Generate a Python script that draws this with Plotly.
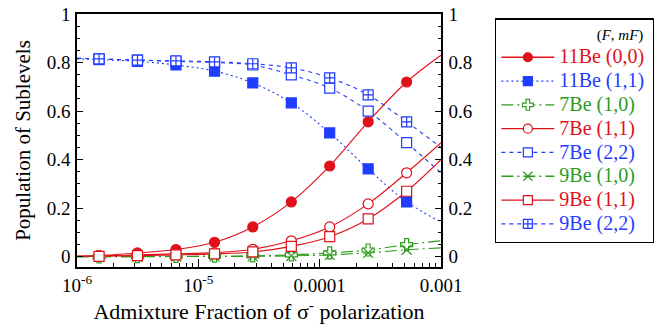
import plotly.graph_objects as go

# ---- data ----
x_pts = [1.52e-6, 3.15e-6, 6.54e-6, 1.36e-5, 2.81e-5, 5.84e-5, 1.21e-4, 2.51e-4, 5.21e-4]
x_lo, x_hi = 1e-6, 1e-3

be11_00 = [0.005, 0.016, 0.030, 0.060, 0.123, 0.226, 0.374, 0.556, 0.720]
be11_11 = [0.812, 0.805, 0.790, 0.765, 0.716, 0.634, 0.510, 0.362, 0.226]
be7_10 = [0.000, 0.001, 0.002, 0.003, 0.004, 0.008, 0.016, 0.028, 0.050]
be7_11 = [0.004, 0.008, 0.012, 0.017, 0.031, 0.066, 0.123, 0.218, 0.346]
be7_22 = [0.815, 0.810, 0.805, 0.800, 0.790, 0.749, 0.695, 0.600, 0.470]
be9_10 = [0.000, 0.000, 0.001, 0.001, 0.002, 0.004, 0.008, 0.016, 0.029]
be9_11 = [0.002, 0.005, 0.008, 0.012, 0.020, 0.043, 0.083, 0.156, 0.270]
be9_22 = [0.815, 0.810, 0.807, 0.803, 0.795, 0.778, 0.737, 0.667, 0.556]

# fitted-curve values at the two ends of the axis
ends_11_00 = (0.003, 0.83)
ends_11_11 = (0.815, 0.144)
ends_7_10 = (0.0, 0.066)
ends_7_11 = (0.002, 0.47)
ends_7_22 = (0.818, 0.345)
ends_9_10 = (0.0, 0.037)
ends_9_11 = (0.001, 0.40)
ends_9_22 = (0.818, 0.45)

names = ["11Be (0,0)", "11Be (1,1)", "7Be (1,0)", "7Be (1,1)",
         "7Be (2,2)", "9Be (1,0)", "9Be (1,1)", "9Be (2,2)"]

x_major = [1e-6, 1e-5, 1e-4, 1e-3]
x_major_text = ["10<sup>-6</sup>", "10<sup>-5</sup>", "0.0001", "0.001"]
x_minor = [d * m for m in (1e-6, 1e-5, 1e-4) for d in range(2, 10)]

RED = "#e0101a"
BLUE = "#1f3cff"
GREEN = "#2e9a1e"
FONT = "Liberation Serif"

series = [
    (names[0], be11_00, ends_11_00, RED, "solid", "circle", RED),
    (names[1], be11_11, ends_11_11, BLUE, "2px,3px", "square", BLUE),
    (names[2], be7_10, ends_7_10, GREEN, "12px,4px,2px,4px", "cross", "white"),
    (names[3], be7_11, ends_7_11, RED, "solid", "circle", "white"),
    (names[4], be7_22, ends_7_22, BLUE, "4px,4px", "square", "white"),
    (names[5], be9_10, ends_9_10, GREEN, "12px,4px,2px,4px", "x-thin", GREEN),
    (names[6], be9_11, ends_9_11, RED, "solid", "square", "white"),
    (names[7], be9_22, ends_9_22, BLUE, "4px,4px", "square-cross", "white"),
]

fig = go.Figure()

# fitted curves
for name, ys, ends, col, dash, sym, fill in series:
    fig.add_trace(go.Scatter(
        x=[x_lo] + x_pts + [x_hi], y=[ends[0]] + ys + [ends[1]],
        mode="lines", line=dict(color=col, width=1.1, dash=dash, shape="spline", smoothing=1.0),
        showlegend=False, hoverinfo="skip"))

# markers
for name, ys, ends, col, dash, sym, fill in series:
    fig.add_trace(go.Scatter(
        x=x_pts, y=ys, mode="markers",
        marker=dict(symbol=sym, size=10, color=fill if sym != "x-thin" else col,
                    line=dict(color=col, width=1.2)),
        showlegend=False))

# legend entries
for name, ys, ends, col, dash, sym, fill in series:
    fig.add_trace(go.Scatter(
        x=[None], y=[None], mode="lines+markers",
        name=f'<span style="color:{col};font-size:20px">{name}</span>\u00a0',
        line=dict(color=col, width=1.3, dash=dash),
        marker=dict(symbol=sym, size=9, color=fill if sym != "x-thin" else col,
                    line=dict(color=col, width=1.2))))

# invisible trace for right axis
fig.add_trace(go.Scatter(x=[None], y=[None], yaxis="y2", showlegend=False))

axis_common = dict(showgrid=False, zeroline=False, showline=True, linecolor="black",
                   linewidth=1.5, ticks="inside", tickcolor="black",
                   tickfont=dict(family=FONT, size=19, color="black"))

yrange = [-0.042, 1.0]
fig.update_layout(
    width=654, height=329,
    margin=dict(l=77, r=213, t=14, b=62, autoexpand=False),
    paper_bgcolor="white", plot_bgcolor="white",
    font=dict(family=FONT, color="black"),
    xaxis=dict(type="log", range=[-6, -3],
               tickvals=x_major, ticktext=x_major_text,
               ticklen=8, mirror=True,
               minor=dict(ticks="inside", ticklen=4, tickcolor="black", showgrid=False,
                          tickvals=x_minor),
               title=dict(text="Admixture Fraction of σ<sup>-</sup> polarization",
                          font=dict(family=FONT, size=22), standoff=0),
               **axis_common),
    yaxis=dict(range=yrange, dtick=0.2, tick0=0, ticklen=6,
               minor=dict(ticks="inside", ticklen=3, dtick=0.05, tick0=0, tickcolor="black", showgrid=False),
               ticklabelstandoff=1,
               title=dict(text="Population of Sublevels", font=dict(family=FONT, size=21), standoff=10),
               **axis_common),
    yaxis2=dict(range=yrange, dtick=0.2, tick0=0, ticklen=6, overlaying="y", side="right",
                minor=dict(ticks="inside", ticklen=3, dtick=0.05, tick0=0, tickcolor="black", showgrid=False),
                ticklabelstandoff=2,
                **axis_common),
    legend=dict(x=1.148, y=0.984, xanchor="left", yanchor="top",
                bordercolor="black", borderwidth=1.5, bgcolor="white",
                font=dict(family=FONT, size=16),
                itemwidth=53,
                title=dict(text='<span style="font-size:15px">(<i>F</i>, <i>mF</i>)</span>\u00a0\u00a0',
                           side="top right", font=dict(family=FONT, size=16))),
)

fig.write_html("out.html", config={"displayModeBar": False},
               post_script="document.body.style.margin='0px';")
